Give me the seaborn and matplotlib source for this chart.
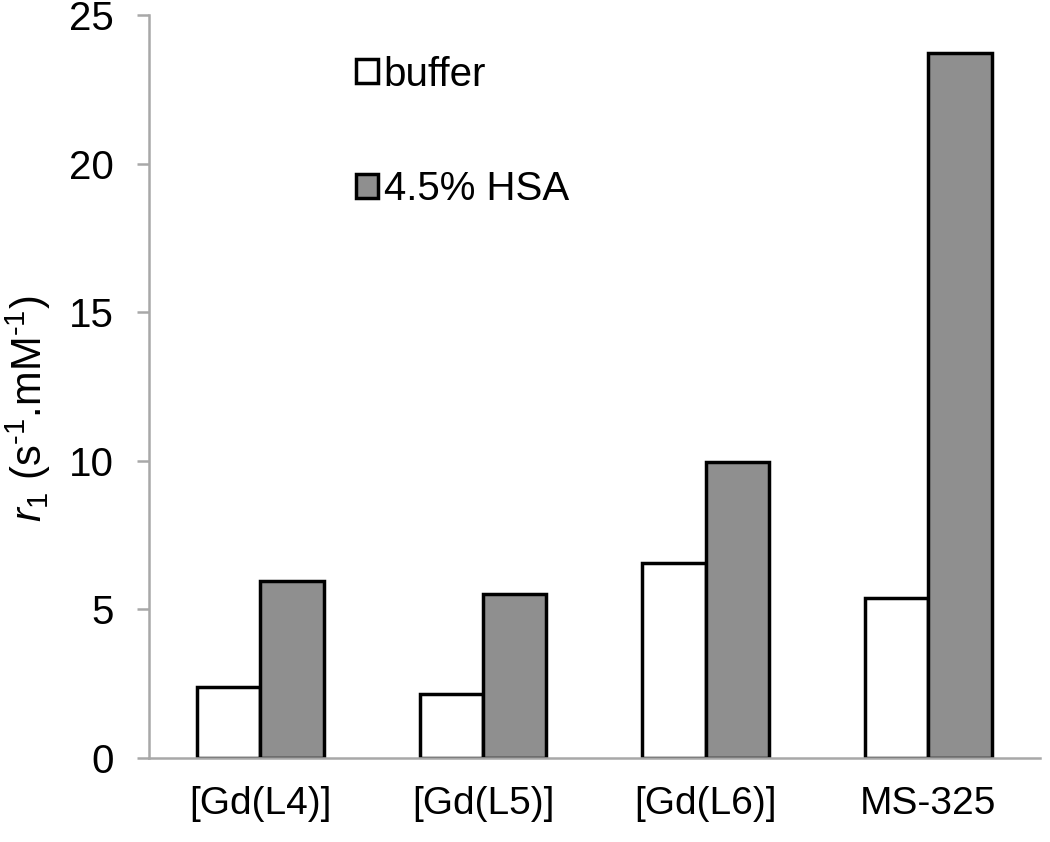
import pandas as pd
import seaborn as sns
import matplotlib.pyplot as plt
from matplotlib.ticker import FixedLocator

# values
compounds = ['[Gd(L4)]', '[Gd(L5)]', '[Gd(L6)]', 'MS-325']
buffer_r1 = [2.40, 2.15, 6.55, 5.38]
hsa_r1 = [5.95, 5.52, 9.95, 23.75]
media = ['buffer', '4.5% HSA']
y_ticks = [0, 5, 10, 15, 20, 25]

df = pd.DataFrame({
    'compound': compounds * 2,
    'r1': buffer_r1 + hsa_r1,
    'medium': [media[0]] * len(compounds) + [media[1]] * len(compounds),
})

sns.set_theme(style="white")
plt.rcParams['font.family'] = ['Liberation Sans', 'DejaVu Sans']
plt.rcParams['mathtext.fontset'] = 'custom'
plt.rcParams['mathtext.rm'] = 'Liberation Sans'
plt.rcParams['mathtext.it'] = 'Liberation Sans:italic'
plt.rcParams['text.color'] = 'black'
plt.rcParams['axes.labelcolor'] = 'black'
plt.rcParams['xtick.labelcolor'] = 'black'
plt.rcParams['ytick.labelcolor'] = 'black'

axis_grey = '#a8a8a8'

fig = plt.figure(figsize=(10.5, 8.42), dpi=100)
ax = fig.add_axes([0.142, 0.0998, 0.848, 0.8818])

sns.barplot(
    data=df,
    x='compound',
    y='r1',
    hue='medium',
    hue_order=media,
    order=compounds,
    palette={'buffer': 'white', '4.5% HSA': '#8f8f8f'},
    edgecolor='black',
    linewidth=2.5,
    width=0.57,
    gap=0,
    errorbar=None,
    ax=ax,
)

ax.set_xlim(-0.5, len(compounds) - 0.5)
ax.set_ylim(0, 25)
ax.set_yticks(y_ticks)
ax.set_yticklabels([str(t) for t in y_ticks], fontsize=29)
ax.set_xticklabels(compounds, fontsize=28)

# category separators on the x axis
ax.xaxis.set_minor_locator(FixedLocator([i - 0.5 for i in range(len(compounds) + 1)]))
ax.tick_params(axis='x', which='major', length=0, pad=20)
ax.tick_params(axis='x', which='minor', length=8.5, width=1.8, color=axis_grey, direction='out')
ax.tick_params(axis='y', which='major', length=8.5, width=1.8, color=axis_grey,
               direction='out', pad=17, left=True)

ax.spines[['right', 'top']].set_visible(False)
for side in ['left', 'bottom']:
    ax.spines[side].set_color(axis_grey)
    ax.spines[side].set_linewidth(1.8)

ax.set_xlabel('')
ax.set_ylabel(r'$r_1$ (s$^{\text{-}1}$.mM$^{\text{-}1}$)', fontsize=30)
ax.yaxis.set_label_coords(-0.108, 0.47)

handles, labels = ax.get_legend_handles_labels()
ax.legend(handles, labels, loc='upper left', bbox_to_anchor=(0.232, 0.946),
          frameon=False, fontsize=29, handlelength=0.55, handleheight=0.55,
          handletextpad=0.15, labelspacing=1.9, borderpad=0, borderaxespad=0)

plt.savefig('out.png', dpi=100)
